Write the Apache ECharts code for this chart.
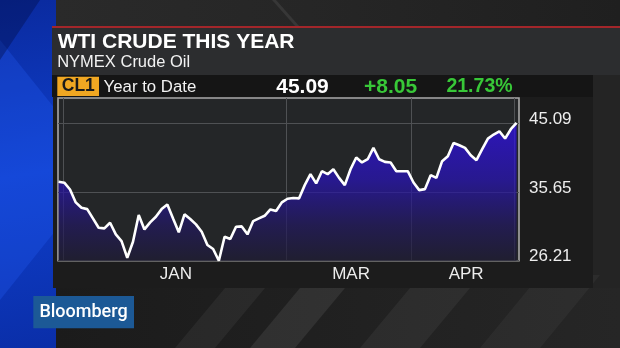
<!DOCTYPE html>
<html>
<head>
<meta charset="utf-8">
<script src="https://cdn.jsdelivr.net/npm/echarts@6/dist/echarts.min.js"></script>
<style>
html,body{margin:0;padding:0;background:#1d1d1d;}
#chart{width:620px;height:348px;}
</style>
</head>
<body>
<div id="chart"></div>
<script>
// ---- data (trading-day index -1 = prior year close) ----
var prices = [
  37.04, 36.90, 35.97, 34.20, 33.46, 33.28, 32.01, 30.72, 30.64, 31.41,
  29.82, 28.90, 26.62, 28.81, 32.46, 30.50, 31.46, 32.23, 33.28, 33.92,
  32.00, 30.10, 32.56, 31.92, 31.19, 30.18, 28.36, 27.81, 26.21, 29.49,
  29.18, 30.86, 30.91, 29.82, 31.64, 32.01, 32.37, 33.24, 33.01, 34.20,
  34.70, 34.80, 34.75, 36.57, 38.07, 36.80, 38.48, 38.07, 38.75, 37.56,
  36.57, 38.75, 40.35, 39.67, 40.12, 41.67, 40.12, 39.75, 39.67, 38.48,
  38.48, 38.48, 36.93, 35.88, 36.02, 37.93, 37.56, 39.85, 40.53, 42.35,
  42.04, 41.67, 40.67, 39.99, 41.49, 42.95, 43.50, 43.95, 42.95, 44.23,
  45.09
];
var firstDayIndex = -1;
var monthGridDays = [-0.1, 38.74, 60.56, 78.58];
var monthLabelDays = [19.5, 50.1, 70.2];
var monthLabels = ['JAN', 'MAR', 'APR'];
var yTickValues = [26.21, 35.65, 45.09];
var titleText = 'WTI CRUDE THIS YEAR';
var subtitleText = 'NYMEX Crude Oil';
var tickerText = 'CL1';
var periodText = 'Year to Date';

var seriesData = prices.map(function (v, i) { return [firstDayIndex + i, v]; });
var last = prices[prices.length - 1];
var base = prices[0];
var chg = last - base;
var pct = chg / base * 100;

var chart = echarts.init(document.getElementById('chart'), null, {renderer: 'canvas'});
var FONT = '"Liberation Sans", Arial, sans-serif';

var option = {
  backgroundColor: '#1d1d1d',
  animation: false,
  grid: {
    left: 58, top: 98, right: 101, bottom: 87.3,
    show: true, backgroundColor: '#242628',
    borderColor: '#a8a8a8', borderWidth: 1.6,
    containLabel: false
  },
  xAxis: {
    type: 'value', min: -1.1, max: 79.43,
    axisLine: {show: false},
    axisTick: {show: false, customValues: monthGridDays},
    splitLine: {show: true, lineStyle: {color: '#4f5154', width: 1}},
    axisLabel: {
      show: true, customValues: monthLabelDays,
      color: '#ededed', fontSize: 17, fontFamily: FONT, margin: 5,
      formatter: function (v) {
        var k = -1;
        for (var i = 0; i < monthLabelDays.length; i++) { if (Math.abs(monthLabelDays[i] - v) < 0.01) k = i; }
        return k >= 0 ? monthLabels[k] : '';
      }
    }
  },
  yAxis: {
    type: 'value', position: 'right', min: 26.21, max: 48.51,
    axisLine: {show: false},
    axisTick: {show: false, customValues: yTickValues},
    splitLine: {show: true, lineStyle: {color: '#4f5154', width: 1}},
    axisLabel: {
      show: true, customValues: yTickValues,
      color: '#ededed', fontSize: 17, fontFamily: FONT, margin: 10,
      verticalAlign: 'bottom', lineHeight: 8,
      formatter: function (v) { return v.toFixed(2); }
    }
  },
  series: [{
    type: 'line',
    data: seriesData,
    showSymbol: false,
    smooth: false,
    lineStyle: {color: '#ffffff', width: 2.6},
    areaStyle: {
      origin: 'start',
      color: new echarts.graphic.LinearGradient(0, 98, 0, 261, [
        {offset: 0, color: '#3812ff'},
        {offset: 0.2, color: '#300ff0'},
        {offset: 0.5, color: '#2913bc'},
        {offset: 0.78, color: '#221862'},
        {offset: 1, color: '#1e1b33'}
      ], true)
    },
    z: 3
  }],
  graphic: [
    // left blue strip
    {type: 'rect', z: -10, shape: {x: 0, y: 0, width: 56, height: 348},
     style: {fill: new echarts.graphic.LinearGradient(0, 0, 1, 1, [
       {offset: 0, color: '#0a2a9e'}, {offset: 0.5, color: '#0f3fcc'}, {offset: 1, color: '#0a2ea8'}])}},
    {type: 'polygon', z: -9, shape: {points: [[0, 40], [56, 110], [56, 230], [0, 300]]},
     style: {fill: 'rgba(40,100,255,0.25)'}},
    {type: 'polygon', z: -9, shape: {points: [[0, 0], [40, 0], [0, 60]]},
     style: {fill: 'rgba(0,10,60,0.35)'}},
    // top dark area with diagonal
    {type: 'rect', z: -10, shape: {x: 56, y: 0, width: 564, height: 27},
     style: {fill: new echarts.graphic.LinearGradient(0, 0, 1, 0, [
       {offset: 0, color: '#2a2a2a'}, {offset: 0.45, color: '#262626'}, {offset: 1, color: '#1f1f1f'}])}},
    {type: 'polygon', z: -9, shape: {points: [[272, 0], [276, 0], [300, 27], [296, 27]]},
     style: {fill: 'rgba(255,255,255,0.08)'}},
    // right background
    {type: 'rect', z: -10, shape: {x: 593, y: 75, width: 27, height: 273}, style: {fill: '#242424'}},
    // bottom area streaks
    {type: 'rect', z: -10, shape: {x: 56, y: 288, width: 564, height: 60},
     style: {fill: new echarts.graphic.LinearGradient(0, 0, 1, 0, [
       {offset: 0, color: '#1b1b1b'}, {offset: 1, color: '#262626'}])}},
    {type: 'polygon', z: -9, shape: {points: [[175, 348], [225, 288], [265, 288], [215, 348]]},
     style: {fill: 'rgba(255,255,255,0.05)'}},
    {type: 'polygon', z: -9, shape: {points: [[250, 348], [300, 288], [345, 288], [295, 348]]},
     style: {fill: 'rgba(255,255,255,0.08)'}},
    {type: 'polygon', z: -9, shape: {points: [[360, 348], [410, 288], [470, 288], [420, 348]]},
     style: {fill: 'rgba(255,255,255,0.05)'}},
    {type: 'polygon', z: -9, shape: {points: [[480, 348], [540, 275], [600, 275], [540, 348]]},
     style: {fill: 'rgba(255,255,255,0.04)'}},
    // chart panel
    {type: 'rect', z: -8, shape: {x: 53, y: 97, width: 540, height: 191}, style: {fill: '#1c1c1c'}},
    // red rule + title box
    {type: 'rect', z: -7, shape: {x: 52, y: 26, width: 568, height: 2.2}, style: {fill: '#a3262a'}},
    {type: 'rect', z: -7, shape: {x: 52, y: 28, width: 568, height: 47}, style: {fill: '#2c2d2f'}},
    // ticker bar
    {type: 'rect', z: -7, shape: {x: 52, y: 75, width: 541, height: 22}, style: {fill: '#151515'}},
    {type: 'rect', z: -6, shape: {x: 57.3, y: 76.7, width: 41.7, height: 19.3}, style: {fill: '#f0a722'}},
    {type: 'text', z: 10, x: 57.7, y: 42.3,
     style: {text: titleText, fill: '#ffffff', font: 'bold 21px ' + FONT, verticalAlign: 'middle'}},
    {type: 'text', z: 10, x: 57.2, y: 62.4,
     style: {text: subtitleText, fill: '#f2f2f2', font: '16.5px ' + FONT, verticalAlign: 'middle'}},
    {type: 'text', z: 10, x: 78.3, y: 86.6,
     style: {text: tickerText, fill: '#1a1a1a', font: 'bold 17.5px ' + FONT, verticalAlign: 'middle', align: 'center'}},
    {type: 'text', z: 10, x: 103.6, y: 87,
     style: {text: periodText, fill: '#f2f2f2', font: '16.8px ' + FONT, verticalAlign: 'middle'}},
    {type: 'text', z: 10, x: 302.5, y: 87,
     style: {text: last.toFixed(2), fill: '#ffffff', font: 'bold 21px ' + FONT, verticalAlign: 'middle', align: 'center'}},
    {type: 'text', z: 10, x: 390.5, y: 87,
     style: {text: '+' + chg.toFixed(2), fill: '#38c838', font: 'bold 21px ' + FONT, verticalAlign: 'middle', align: 'center'}},
    {type: 'text', z: 10, x: 479.5, y: 87,
     style: {text: pct.toFixed(2) + '%', fill: '#38c838', font: 'bold 19.5px ' + FONT, verticalAlign: 'middle', align: 'center'}},
    // Bloomberg logo
    {type: 'rect', z: 5, shape: {x: 33.3, y: 296, width: 100.7, height: 32.3}, style: {fill: '#1c5996'}},
    {type: 'text', z: 10, x: 83.5, y: 312.4,
     style: {text: 'Bloomberg', fill: '#ffffff', font: '500 18px Roboto, ' + FONT, verticalAlign: 'middle', align: 'center'}}
  ]
};
chart.setOption(option);
</script>
</body>
</html>
